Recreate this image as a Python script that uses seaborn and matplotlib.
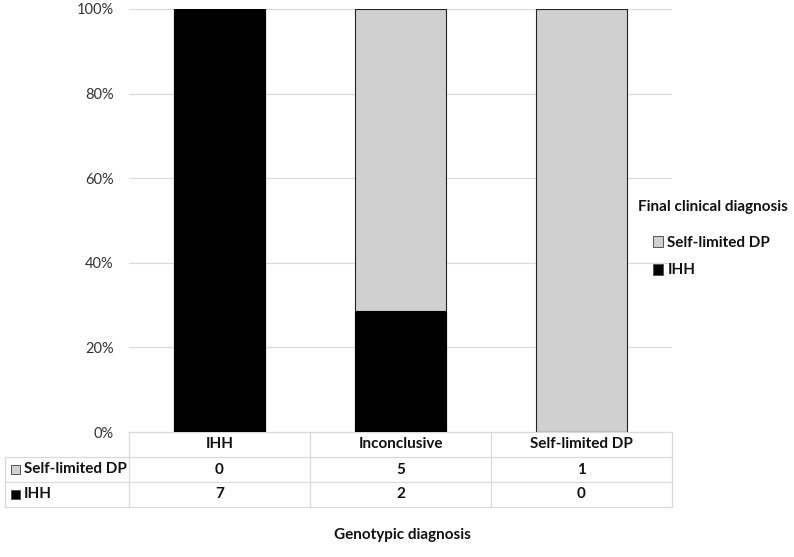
import matplotlib
matplotlib.use('Agg')
import matplotlib.pyplot as plt
import matplotlib.transforms as mtransforms
from matplotlib.patches import Patch, Rectangle
import numpy as np
import pandas as pd
import seaborn as sns

# data
categories = ['IHH', 'Inconclusive', 'Self-limited DP']
series_names = ['Self-limited DP', 'IHH']
self_limited_counts = [0, 5, 1]
ihh_counts = [7, 2, 0]
y_ticks = [0, 20, 40, 60, 80, 100]
y_tick_labels = ['0%', '20%', '40%', '60%', '80%', '100%']

gray = '#d0d0d0'
black = '#000000'
grid_col = '#d9d9d9'

sns.set_style('white')
plt.rcParams['font.family'] = ['Lato', 'DejaVu Sans']

totals = np.array(self_limited_counts) + np.array(ihh_counts)
df = pd.DataFrame({
    'cat': categories,
    'total_pct': (totals / totals * 100),
    'ihh_pct': np.array(ihh_counts) / totals * 100,
})

fig = plt.figure(figsize=(7.94, 5.57), dpi=100)
W, H = 794, 557
ax = fig.add_axes([129 / W, (H - 432) / H, (672 - 129) / W, (432 - 9) / H])

# stacked 100% bars: full gray, then black IHH share on top
sns.barplot(data=df, x='cat', y='total_pct', color=gray, width=0.5,
            edgecolor='#222222', linewidth=0.8, saturation=1, ax=ax, zorder=2)
sns.barplot(data=df, x='cat', y='ihh_pct', color=black, width=0.5,
            edgecolor=black, linewidth=0.8, saturation=1, ax=ax, zorder=3)

ax.set_xlim(-0.5, len(categories) - 0.5)
ax.set_ylim(0, 100)
ax.set_yticks(y_ticks)
ax.set_yticklabels(y_tick_labels, fontsize=10.5, color='#333333')
ax.tick_params(axis='y', length=0, pad=11)
ax.set_xticks([])
ax.set_xlabel('')
ax.set_ylabel('')
ax.yaxis.grid(True, color=grid_col, linewidth=0.8, zorder=0)
ax.set_axisbelow(True)
for s in ax.spines.values():
    s.set_visible(False)

# data table under the plot (x in data, y in axes units)
tr = mtransforms.blended_transform_factory(ax.transData, ax.transAxes)
row_h = 25 / 423
left_x = (5 - 129) / 543 * 3 - 0.5
xmin, xmax = -0.5, len(categories) - 0.5
lw = 0.9
line_kw = dict(color=grid_col, linewidth=lw, transform=tr, clip_on=False)

ax.plot([xmin, xmax], [0, 0], **line_kw)
for r in range(1, 4):
    ax.plot([left_x, xmax], [-r * row_h, -r * row_h], **line_kw)
ax.plot([left_x, left_x], [-row_h, -3 * row_h], **line_kw)
for b in np.arange(len(categories) + 1) - 0.5:
    ax.plot([b, b], [0, -3 * row_h], **line_kw)

fs = 11
txt_kw = dict(transform=tr, fontsize=fs, fontweight='bold', color='#111111',
              ha='center', va='center', clip_on=False)
for i, c in enumerate(categories):
    ax.text(i, -0.5 * row_h, c, **txt_kw)
    ax.text(i, -1.5 * row_h, str(self_limited_counts[i]), **txt_kw)
    ax.text(i, -2.5 * row_h, str(ihh_counts[i]), **txt_kw)

# row labels with small legend keys
row_y = [469, 494]
row_cols = [gray, black]
for name, col, py in zip(series_names, row_cols, row_y):
    fig.add_artist(Rectangle((11 / W, 1 - (py + 4.5) / H), 9 / W, 9 / H,
                             transform=fig.transFigure, facecolor=col,
                             edgecolor='#555555', linewidth=0.7))
    fig.text(24 / W, 1 - py / H, name, fontsize=fs,
             fontweight='bold', color='#111111', ha='left', va='center')

# axis title
fig.text(402 / W, 1 - 535 / H, 'Genotypic diagnosis', fontsize=fs,
         fontweight='bold', color='#111111', ha='center', va='center')

# legend
fig.text(638 / W, 1 - 207 / H, 'Final clinical diagnosis', fontsize=fs,
         fontweight='bold', color='#111111', ha='left', va='center')
handles = [Patch(facecolor=gray, edgecolor='#555555', linewidth=0.7, label=series_names[0]),
           Patch(facecolor=black, edgecolor='#555555', linewidth=0.7, label=series_names[1])]
leg = fig.legend(handles=handles, loc='upper left', bbox_to_anchor=(639 / W, 1 - 222 / H),
                 frameon=False, handlelength=0.7, handleheight=0.7, handletextpad=0.25,
                 labelspacing=0.9, prop={'size': fs, 'weight': 'bold'})
for t in leg.get_texts():
    t.set_color('#111111')

fig.savefig('out.png', dpi=100)
